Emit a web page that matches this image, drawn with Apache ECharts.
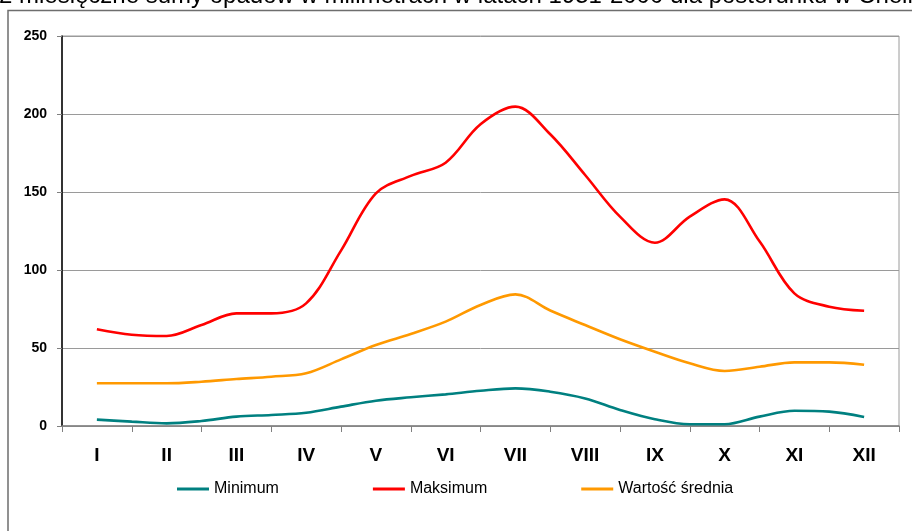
<!DOCTYPE html>
<html>
<head>
<meta charset="utf-8">
<script src="https://cdn.jsdelivr.net/npm/echarts@6/dist/echarts.min.js"></script>
<style>
    html, body {margin: 0; padding: 0; background: #fff;}
    #main {width: 912px; height: 531px;}
</style>
</head>
<body>
<div id="main"></div>
<script>
// miesiące (oś kategorii)
let months = ['I', 'II', 'III', 'IV', 'V', 'VI', 'VII', 'VIII', 'IX', 'X', 'XI', 'XII'];
// położenia punktów na osi (środki miesięcy i granice między nimi)
let positions = [0.5, 1, 1.5, 2, 2.5, 3, 3.5, 4, 4.5, 5, 5.5, 6, 6.5, 7, 7.5, 8, 8.5, 9, 9.5, 10, 10.5, 11, 11.5];
let minimum = [4.1, 2.8, 1.7, 3.2, 6.0, 7.1, 8.5, 12.4, 16.2, 18.4, 20.3, 22.6, 24.1, 22.0, 17.7, 10.3, 4.3, 1.1, 1.1, 6.0, 9.8, 9.2, 5.8];
let maksimum = [62.0, 58.5, 57.7, 64.7, 72.2, 72.2, 78.6, 112.4, 149.1, 160.3, 168.8, 193.4, 204.7, 187.0, 160.9, 134.2, 117.5, 134.2, 145.3, 118.4, 85.0, 76.5, 73.9];
let srednia = [27.4, 27.4, 27.4, 28.4, 30.1, 31.6, 33.8, 42.7, 51.9, 59.0, 66.9, 77.6, 84.4, 74.0, 64.7, 55.6, 47.6, 40.2, 35.3, 38.0, 40.8, 40.8, 39.3];
let yTicks = [0, 50, 100, 150, 200, 250];
let title = '2 miesięczne sumy opadów w milimetrach w latach 1951-2000 dla posterunku w Chełmie';

function pairs(values) {
    let out = [];
    for (let i = 0; i < values.length; i++) {
        out.push([positions[i], values[i]]);
    }
    return out;
}

let myChart = echarts.init(document.getElementById('main'));
let font = 'Liberation Sans, Arial, sans-serif';
let option = {
    animation: false,
    textStyle: {fontFamily: font},
    graphic: [
        {
            type: 'rect',
            shape: {x: 8, y: 10.5, width: 1000, height: 1000},
            style: {fill: 'none', stroke: '#6e6e6e', lineWidth: 1.5},
            silent: true
        },
        {
            type: 'text',
            left: -1,
            top: -16,
            style: {text: title, fontSize: 24, fontFamily: font, fill: '#000'},
            silent: true
        }
    ],
    grid: {
        left: 62,
        right: 13,
        top: 36,
        bottom: 105,
        show: true,
        borderColor: '#9a9a9a',
        borderWidth: 1,
        backgroundColor: 'transparent'
    },
    legend: {
        left: 172,
        top: 476,
        itemGap: 94,
        itemWidth: 32,
        itemHeight: 3,
        icon: 'rect',
        textStyle: {fontSize: 16, color: '#000', fontFamily: font},
        data: ['Minimum', 'Maksimum', 'Wartość średnia']
    },
    xAxis: [
        {
            type: 'category',
            data: months,
            boundaryGap: true,
            axisLine: {lineStyle: {color: '#808080', width: 1.5}},
            axisTick: {show: true, length: 6, lineStyle: {color: '#808080'}},
            axisLabel: {fontSize: 19, fontWeight: 'bold', color: '#000', margin: 20, fontFamily: font},
            splitLine: {show: false}
        },
        {
            type: 'value',
            min: 0,
            max: 12,
            show: false,
            position: 'bottom'
        }
    ],
    yAxis: {
        type: 'value',
        min: yTicks[0],
        max: yTicks[yTicks.length - 1],
        interval: 50,
        axisLine: {show: true, lineStyle: {color: '#000', width: 1.5}},
        axisTick: {show: true, length: 5, lineStyle: {color: '#808080'}},
        axisLabel: {fontSize: 14, fontWeight: 'bold', color: '#000', margin: 15, fontFamily: font},
        splitLine: {show: true, lineStyle: {color: '#9a9a9a', width: 1}}
    },
    series: [
        {
            name: 'Minimum',
            type: 'line',
            xAxisIndex: 1,
            data: pairs(minimum),
            smooth: 0.35,
            showSymbol: false,
            itemStyle: {color: '#008080'},
            lineStyle: {color: '#008080', width: 2.6}
        },
        {
            name: 'Maksimum',
            type: 'line',
            xAxisIndex: 1,
            data: pairs(maksimum),
            smooth: 0.35,
            showSymbol: false,
            itemStyle: {color: '#ff0000'},
            lineStyle: {color: '#ff0000', width: 2.6}
        },
        {
            name: 'Wartość średnia',
            type: 'line',
            xAxisIndex: 1,
            data: pairs(srednia),
            smooth: 0.35,
            showSymbol: false,
            itemStyle: {color: '#ff9900'},
            lineStyle: {color: '#ff9900', width: 2.6}
        }
    ]
};
myChart.setOption(option);
</script>
</body>
</html>
